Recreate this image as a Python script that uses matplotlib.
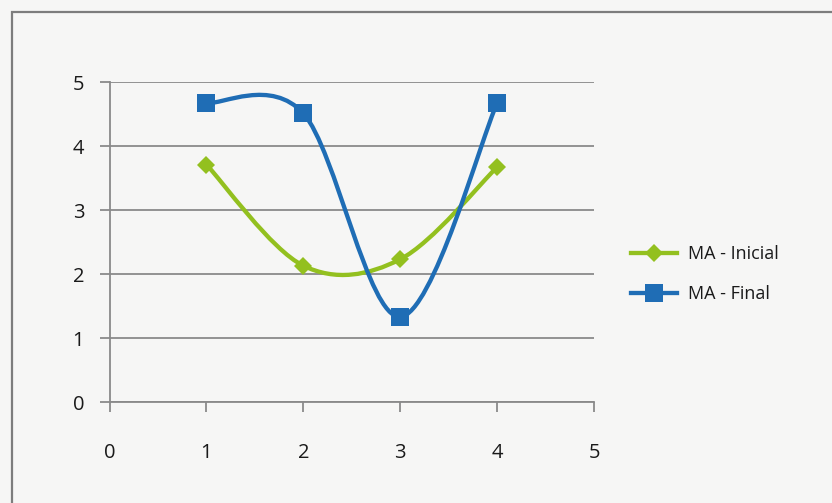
import numpy as np
import matplotlib
matplotlib.use("Agg")
import matplotlib.pyplot as plt
from matplotlib.path import Path
from matplotlib.patches import PathPatch, Rectangle
from matplotlib.lines import Line2D

plt.rcParams["font.family"] = ["Open Sans", "DejaVu Sans"]

x_vals = [1, 2, 3, 4]
inicial = [3.71, 2.13, 2.23, 3.67]
final = [4.67, 4.51, 1.33, 4.67]
series_names = ["MA - Inicial", "MA - Final"]

VERDE = "#93c01f"
AZUL = "#1f6db5"
CINZA = "#8a8a8a"
FUNDO = "#f6f6f5"


def curva_suave(xs, ys):
    # Catmull-Rom convertido em segmentos de Bézier cúbica (suavização estilo planilha)
    pts = np.column_stack([xs, ys]).astype(float)
    n = len(pts)
    verts = [pts[0]]
    codes = [Path.MOVETO]
    for i in range(n - 1):
        p0 = pts[i - 1] if i > 0 else pts[i]
        p1, p2 = pts[i], pts[i + 1]
        p3 = pts[i + 2] if i + 2 < n else pts[i + 1]
        c1 = p1 + (p2 - p0) / 6
        c2 = p2 - (p3 - p1) / 6
        verts += [c1, c2, p2]
        codes += [Path.CURVE4] * 3
    return Path(verts, codes)


fig = plt.figure(figsize=(8.32, 5.03), dpi=100, facecolor=FUNDO)
ax = fig.add_axes([109.5 / 832, 1 - 402 / 503, 484.5 / 832, 320 / 503])
ax.set_facecolor("none")

# moldura externa
fig.patches.append(Rectangle((11.5 / 832, -0.1), 1.2, 1 - 11.5 / 503 + 0.1,
                             transform=fig.transFigure, fill=False,
                             edgecolor="#7d7d7d", lw=1.6, zorder=0))

for ys, cor, mk, ms in [(inicial, VERDE, "D", 9), (final, AZUL, "s", 12.5)]:
    ax.add_patch(PathPatch(curva_suave(x_vals, ys), facecolor="none",
                           edgecolor=cor, lw=3.1, capstyle="round", zorder=3))
    ax.plot(x_vals, ys, linestyle="none", marker=mk, markersize=ms,
            color=cor, markeredgewidth=0, zorder=4)

ax.set_xlim(0, 5)
ax.set_ylim(0, 5)
ax.set_xticks(range(6))
ax.set_yticks(range(6))
ax.yaxis.grid(True, color=CINZA, lw=1.3)
ax.set_axisbelow(True)
for lado in ["top", "right"]:
    ax.spines[lado].set_visible(False)
for lado in ["left", "bottom"]:
    ax.spines[lado].set_color(CINZA)
    ax.spines[lado].set_linewidth(1.3)
ax.tick_params(axis="y", length=7.2, width=1.3, color=CINZA, pad=11,
               labelsize=14.5, labelcolor="#1a1a1a")
ax.tick_params(axis="x", length=7.2, width=1.3, color=CINZA, pad=22,
               labelsize=14.5, labelcolor="#1a1a1a")

handles = [
    Line2D([], [], color=VERDE, lw=3.1, marker="D", markersize=9, markeredgewidth=0),
    Line2D([], [], color=AZUL, lw=3.1, marker="s", markersize=12.5, markeredgewidth=0),
]
fig.legend(handles, series_names, loc="center left",
           bbox_to_anchor=(615 / 832, 1 - 274 / 503), frameon=False,
           fontsize=13, handlelength=2.55, handletextpad=0.6, labelspacing=1.2,
           labelcolor="#1a1a1a")

fig.savefig("out.png", dpi=100, facecolor=FUNDO)
